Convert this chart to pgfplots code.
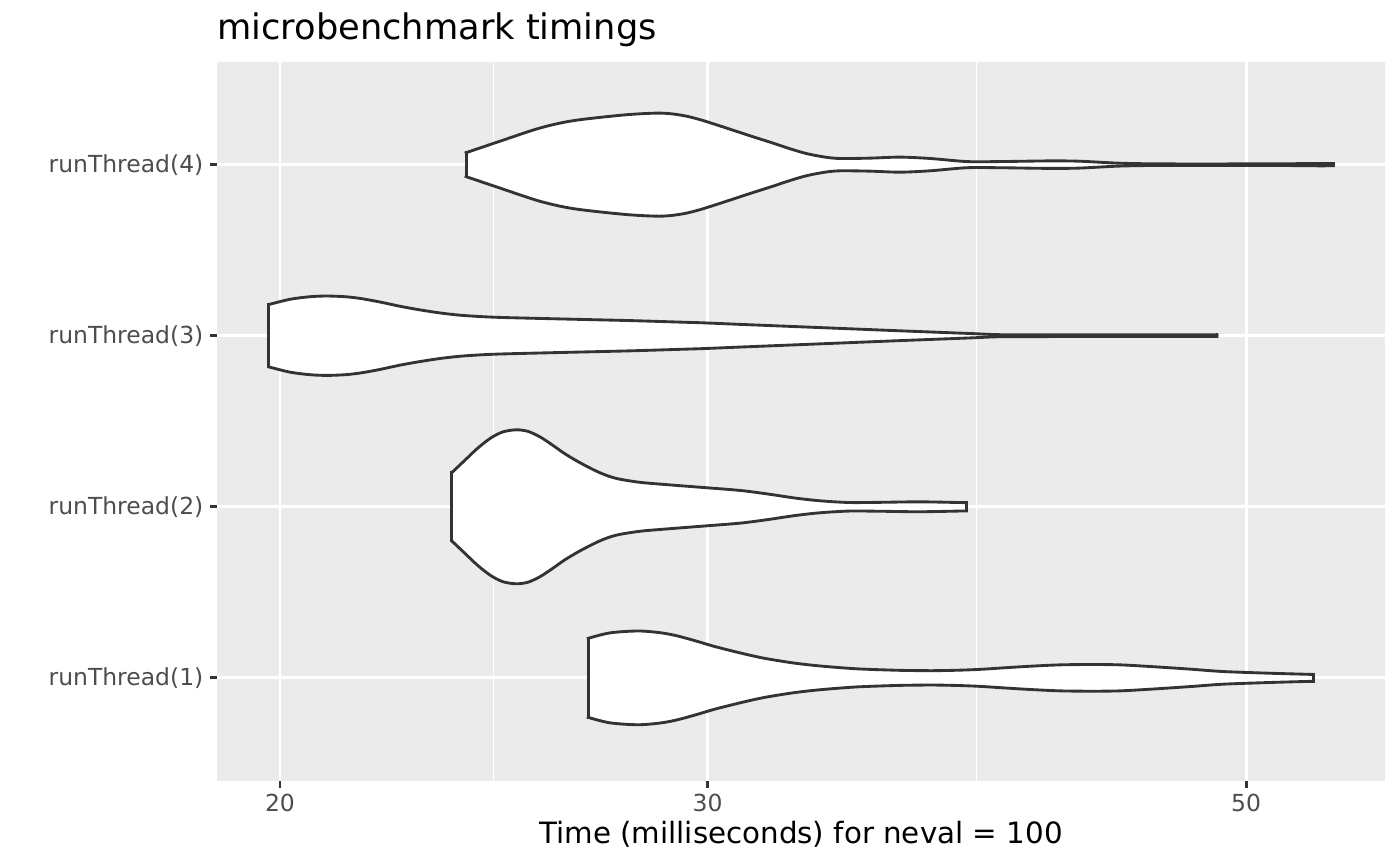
\documentclass[border=0pt]{standalone}
\usepackage{fontspec}
\setmainfont{DejaVu Sans}
\usepackage{pgfplots}
\usepackage{pgfplotstable}
\pgfplotsset{compat=1.18}
\definecolor{bgpanel}{HTML}{EBEBEB}
\definecolor{grey20}{HTML}{333333}
\definecolor{grey30}{HTML}{4D4D4D}
% violin outlines as closed loops: upper edge left to right, then lower edge right to left
\pgfplotstableread{
t y
26.79 1.231
27.35 1.263
28.09 1.274
28.68 1.264
29.12 1.247
29.65 1.217
30.21 1.183
30.94 1.146
31.62 1.116
32.44 1.090
33.13 1.074
33.86 1.062
34.67 1.052
36.01 1.044
37.16 1.042
38.12 1.045
38.89 1.050
39.78 1.059
40.74 1.068
41.91 1.076
43.20 1.078
44.37 1.076
45.69 1.066
47.41 1.051
48.92 1.037
51.15 1.027
53.28 1.020
53.28 0.980
51.15 0.973
48.92 0.963
47.41 0.949
45.69 0.934
44.37 0.924
43.20 0.922
41.91 0.924
40.74 0.932
39.78 0.941
38.89 0.950
38.12 0.955
37.16 0.958
36.01 0.956
34.67 0.948
33.86 0.938
33.13 0.926
32.44 0.910
31.62 0.884
30.94 0.854
30.21 0.817
29.65 0.783
29.12 0.753
28.68 0.736
28.09 0.726
27.35 0.737
26.79 0.769
}\vOne
\pgfplotstableread{
t y
23.54 2.200
23.84 2.274
24.13 2.344
24.43 2.403
24.71 2.438
25.02 2.450
25.30 2.441
25.59 2.409
25.89 2.362
26.21 2.309
26.61 2.254
27.09 2.199
27.51 2.166
28.14 2.143
28.95 2.128
29.93 2.112
30.97 2.095
31.83 2.073
32.60 2.051
33.38 2.035
34.31 2.025
35.33 2.026
36.70 2.029
38.34 2.024
38.34 1.976
36.70 1.971
35.33 1.974
34.31 1.975
33.38 1.965
32.60 1.949
31.83 1.927
30.97 1.905
29.93 1.888
28.95 1.872
28.14 1.857
27.51 1.834
27.09 1.801
26.61 1.746
26.21 1.691
25.89 1.638
25.59 1.591
25.30 1.559
25.02 1.550
24.71 1.562
24.43 1.597
24.13 1.656
23.84 1.726
23.54 1.800
}\vTwo
\pgfplotstableread{
t y
19.79 3.182
20.19 3.213
20.58 3.228
20.91 3.232
21.27 3.228
21.58 3.218
21.99 3.197
22.41 3.172
22.84 3.151
23.28 3.133
23.72 3.120
24.18 3.112
24.64 3.107
25.59 3.101
26.66 3.095
27.95 3.088
29.31 3.079
29.79 3.076
31.23 3.064
33.86 3.044
36.11 3.028
38.48 3.013
39.59 3.006
41.52 3.005
45.65 3.005
48.64 3.005
48.64 2.995
45.65 2.995
41.52 2.995
39.59 2.994
38.48 2.987
36.11 2.972
33.86 2.956
31.23 2.936
29.79 2.924
29.31 2.921
27.95 2.912
26.66 2.905
25.59 2.899
24.64 2.893
24.18 2.888
23.72 2.880
23.28 2.867
22.84 2.849
22.41 2.828
21.99 2.803
21.58 2.782
21.27 2.772
20.91 2.768
20.58 2.772
20.19 2.787
19.79 2.818
}\vThree
\pgfplotstableread{
t y
23.86 4.070
24.64 4.137
25.59 4.214
26.41 4.257
27.69 4.290
28.54 4.301
28.95 4.298
29.37 4.285
29.79 4.263
30.21 4.236
30.65 4.207
31.23 4.169
31.92 4.126
32.44 4.093
32.97 4.064
33.54 4.044
34.02 4.036
35.00 4.038
36.01 4.044
37.05 4.036
38.37 4.018
39.59 4.018
41.52 4.022
42.71 4.020
44.24 4.009
45.65 4.005
47.86 4.004
51.64 4.005
53.63 4.007
54.30 4.006
54.30 3.994
53.63 3.993
51.64 3.995
47.86 3.996
45.65 3.995
44.24 3.991
42.71 3.980
41.52 3.978
39.59 3.982
38.37 3.982
37.05 3.964
36.01 3.956
35.00 3.962
34.02 3.964
33.54 3.956
32.97 3.936
32.44 3.907
31.92 3.874
31.23 3.831
30.65 3.793
30.21 3.764
29.79 3.737
29.37 3.715
28.95 3.702
28.54 3.699
27.69 3.710
26.41 3.743
25.59 3.786
24.64 3.863
23.86 3.930
}\vFour
\pgfplotsset{
  vfill/.style={fill=white, draw=none, sharp plot},
  vline/.style={draw=grey20, line width=1.07bp, line cap=rect, line join=round, smooth, tension=0.5},
  vcap/.style={draw=grey20, line width=1.07bp, line cap=rect, sharp plot},
}
\begin{document}
\begin{tikzpicture}
\path[use as bounding box] (-81.375bp,-31.69bp) rectangle (443.625bp,292.69bp);
\begin{axis}[
  at={(0,0)}, anchor=south west,
  scale only axis, width=438bp, height=269.44bp,
  xmode=log, xmin=18.84, xmax=57.04, ymin=0.4, ymax=4.6,
  axis background/.style={fill=bgpanel},
  axis line style={draw=none},
  xtick={20,30,50}, xticklabels={20,30,50},
  minor xtick={24.49,38.73},
  ytick={1,2,3,4},
  yticklabels={runThread(1),runThread(2),runThread(3),runThread(4)},
  grid=both,
  major grid style={white, line width=1.07bp},
  minor grid style={white, line width=0.53bp},
  tick align=outside, major tick length=2.75bp, minor tick length=0pt,
  tick style={grey20, line width=1.07bp},
  xtick pos=left, ytick pos=left,
  ticklabel style={font=\fontsize{8.8bp}{10bp}\selectfont, text=grey30},
  xticklabel style={inner sep=0pt, yshift=-2.2bp},
  yticklabel style={inner sep=0pt, xshift=-2.2bp},
  xlabel={Time (milliseconds) for neval = 100},
  xlabel style={font=\fontsize{11bp}{13bp}\selectfont, at={(axis description cs:0.5,0)}, anchor=base, yshift=-23.7bp, inner sep=0pt},
  title={microbenchmark timings},
  title style={font=\fontsize{13.2bp}{15bp}\selectfont, at={(axis description cs:0,1)}, anchor=base west, yshift=2.45bp, inner sep=0pt},
  /pgf/number format/assume math mode=true,
]
% runThread(1): 27 upper rows, 27 lower rows
\addplot[vfill] table[x=t, y=y] {\vOne} -- cycle;
\addplot[vline, skip coords between index={27}{54}] table[x=t, y=y] {\vOne};
\addplot[vline, skip coords between index={0}{27}] table[x=t, y=y] {\vOne};
\addplot[vcap] coordinates {(26.79,1.231) (26.79,0.769)};
\addplot[vcap] coordinates {(53.28,1.020) (53.28,0.980)};
% runThread(2): 24 + 24 rows
\addplot[vfill] table[x=t, y=y] {\vTwo} -- cycle;
\addplot[vline, skip coords between index={24}{48}] table[x=t, y=y] {\vTwo};
\addplot[vline, skip coords between index={0}{24}] table[x=t, y=y] {\vTwo};
\addplot[vcap] coordinates {(23.54,2.200) (23.54,1.800)};
\addplot[vcap] coordinates {(38.34,2.024) (38.34,1.976)};
% runThread(3): 26 + 26 rows
\addplot[vfill] table[x=t, y=y] {\vThree} -- cycle;
\addplot[vline, skip coords between index={26}{52}] table[x=t, y=y] {\vThree};
\addplot[vline, skip coords between index={0}{26}] table[x=t, y=y] {\vThree};
\addplot[vcap] coordinates {(19.79,3.182) (19.79,2.818)};
\addplot[vcap] coordinates {(48.64,3.005) (48.64,2.995)};
% runThread(4): 30 + 30 rows
\addplot[vfill] table[x=t, y=y] {\vFour} -- cycle;
\addplot[vline, skip coords between index={30}{60}] table[x=t, y=y] {\vFour};
\addplot[vline, skip coords between index={0}{30}] table[x=t, y=y] {\vFour};
\addplot[vcap] coordinates {(23.86,4.070) (23.86,3.930)};
\addplot[vcap] coordinates {(54.30,4.006) (54.30,3.994)};
\end{axis}
\end{tikzpicture}
\end{document}
